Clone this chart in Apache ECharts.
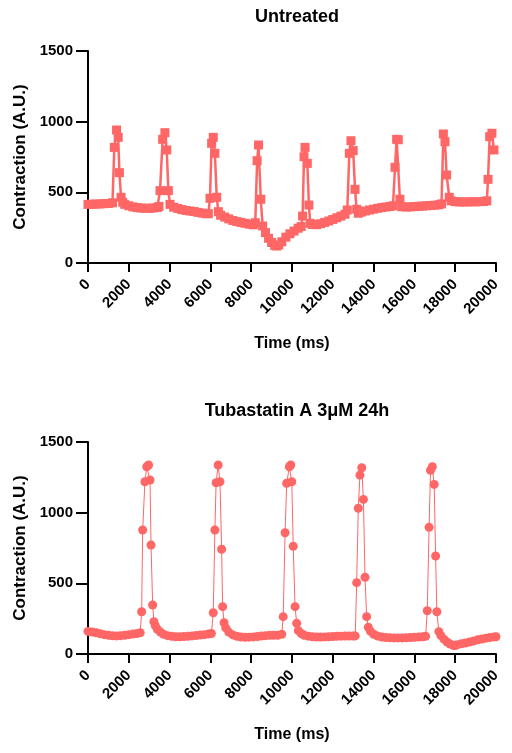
<!DOCTYPE html>
<html>
<head>
<meta charset="utf-8">
<script src="https://cdn.jsdelivr.net/npm/echarts@6/dist/echarts.min.js"></script>
<style>
  html, body { margin: 0; padding: 0; background: #fff; }
  #chart { width: 512px; height: 753px; }
</style>
</head>
<body>
<div id="chart"></div>
<script>
// panel titles and axis names
const panelTitles = ['Untreated', 'Tubastatin A 3μM 24h'];
const xName = 'Time (ms)';
const yName = 'Contraction (A.U.)';

// axis ranges / tick steps (ms, A.U.)
const xTicks = [0, 20000, 2000];
const yTicks = [0, 1500, 500];

// untreated trace, [time ms, contraction]
const untreated = [
    [0,415],[200,416],[400,417],[600,418],[800,420],[1000,421],[1200,426],
    [1290,818],[1400,941],[1480,889],[1540,639],[1620,465],[1700,430],
    [1800,415],[2000,405],[2200,397],[2400,392],[2600,389],[2800,387],[3000,387],[3200,389],[3400,393],
    [3480,400],[3530,512],[3660,875],[3770,922],[3860,800],[3940,512],[4020,415],
    [4200,395],[4400,386],[4600,378],[4800,372],[5000,368],[5200,364],[5400,358],[5600,353],[5800,349],
    [5900,349],[5980,458],[6060,847],[6140,889],[6220,776],[6310,465],[6390,363],
    [6500,338],[6700,325],[6900,312],[7100,301],[7300,293],[7500,287],[7700,281],[7900,275],[8100,270],
    [8200,285],[8290,724],[8360,835],[8470,451],[8560,262],
    [8700,215],[8850,175],[9000,145],[9150,125],[9250,120],[9350,128],[9500,150],[9700,183],[9900,207],
    [10100,226],[10300,246],[10450,258],
    [10520,332],[10590,752],[10640,818],[10750,705],[10830,410],[10890,281],
    [11000,272],[11200,271],[11400,278],[11600,287],[11800,297],[12000,308],[12200,320],[12400,332],[12600,345],
    [12710,375],[12810,776],[12890,865],[13000,795],[13090,521],[13170,380],[13250,352],
    [13400,360],[13600,368],[13800,375],[14000,381],[14200,387],[14400,392],[14600,396],[14800,400],[14950,405],
    [15050,677],[15130,875],[15210,872],[15290,451],[15380,398],
    [15600,396],[15800,397],[16000,399],[16200,401],[16400,403],[16600,405],[16800,407],[17000,409],[17200,412],[17330,418],
    [17420,913],[17500,858],[17580,623],[17710,465],[17800,440],
    [18000,434],[18200,432],[18400,432],[18600,432],[18800,433],[19000,433],[19200,434],[19400,435],[19550,440],
    [19610,592],[19690,894],[19800,918],[19900,800]
];

// tubastatin A trace, [time ms, contraction]
const tubastatin = [
    [0,160],[200,156],[400,150],[600,143],[800,137],[1000,132],[1200,129],[1400,128],[1600,130],[1800,133],
    [2000,137],[2200,141],[2400,145],[2560,150],
    [2630,299],[2680,877],[2790,1219],[2880,1325],[2970,1337],[3040,1231],[3090,771],[3170,347],[3230,229],
    [3300,200],[3400,175],[3550,155],[3700,140],[3900,130],[4100,125],[4300,122],[4500,122],[4700,123],[4900,125],
    [5100,128],[5300,131],[5500,134],[5700,137],[5900,141],[6050,145],
    [6140,292],[6220,877],[6280,1212],[6380,1337],[6470,1219],[6550,741],[6600,335],[6670,221],
    [6750,185],[6900,155],[7100,135],[7300,125],[7500,120],[7700,118],[7900,119],[8100,121],[8300,124],[8500,127],
    [8700,130],[8900,132],[9100,133],[9300,133],[9500,140],
    [9570,264],[9660,858],[9740,1208],[9870,1325],[9940,1337],[9990,1219],[10060,762],[10150,335],[10230,217],
    [10310,165],[10450,145],[10600,133],[10800,126],[11000,122],[11200,120],[11400,120],[11600,121],[11800,122],
    [12000,124],[12200,125],[12400,126],[12600,127],[12800,127],[13000,127],[13100,128],
    [13170,505],[13250,1031],[13330,1266],[13420,1318],[13500,1094],[13580,543],[13660,264],[13740,189],
    [13850,160],[14000,140],[14200,127],[14400,120],[14600,117],[14800,115],[15000,114],[15200,114],[15400,114],
    [15600,115],[15800,117],[16000,118],[16200,120],[16400,122],[16550,125],
    [16630,306],[16720,896],[16790,1300],[16880,1325],[16970,1200],[17040,693],[17100,299],[17200,158],
    [17300,130],[17450,105],[17600,85],[17750,70],[17900,62],[18000,60],[18100,65],[18300,72],[18500,78],
    [18700,85],[18900,92],[19100,100],[19300,106],[19500,112],[19700,117],[19900,121],[20000,122]
];

const FONT = '"Liberation Sans", Arial, Helvetica, sans-serif';
const RED = '#ff6666';

const grids = [
    {left: 88, right: 16, top: 51, height: 212},
    {left: 88, right: 16, top: 442, height: 212}
];

// plain numbers, no thousands separator
const plain = v => String(v);

function makeX(idx) {
    return {
        gridIndex: idx,
        type: 'value',
        min: xTicks[0], max: xTicks[1], interval: xTicks[2],
        name: xName,
        nameLocation: 'middle',
        nameGap: 73,
        nameTextStyle: {fontFamily: FONT, fontWeight: 'bold', fontSize: 16, color: '#000'},
        axisLine: {onZero: false, lineStyle: {color: '#000', width: 2}},
        axisTick: {length: 9, lineStyle: {color: '#000', width: 2}},
        axisLabel: {rotate: 45, margin: 19, formatter: plain,
            fontFamily: FONT, fontWeight: 'bold', fontSize: 15, color: '#000'},
        splitLine: {show: false}
    };
}

function makeY(idx) {
    return {
        gridIndex: idx,
        type: 'value',
        min: yTicks[0], max: yTicks[1], interval: yTicks[2],
        name: yName,
        nameLocation: 'middle',
        nameGap: 57,
        nameTextStyle: {fontFamily: FONT, fontWeight: 'bold', fontSize: 17, color: '#000'},
        axisLine: {show: true, lineStyle: {color: '#000', width: 2}},
        axisTick: {show: true, length: 12, lineStyle: {color: '#000', width: 2}},
        axisLabel: {margin: 15, formatter: plain,
            fontFamily: FONT, fontWeight: 'bold', fontSize: 15, color: '#000'},
        splitLine: {show: false}
    };
}

const chart = echarts.init(document.getElementById('chart'), null, {renderer: 'canvas'});
chart.setOption({
    animation: false,
    backgroundColor: '#fff',
    title: panelTitles.map((t, i) => ({
        text: t,
        left: 292,
        textAlign: 'center',
        top: i === 0 ? 3 : 397,
        textStyle: {fontFamily: FONT, fontWeight: 'bold', fontSize: 18, color: '#000'}
    })),
    grid: grids,
    xAxis: [makeX(0), makeX(1)],
    yAxis: [makeY(0), makeY(1)],
    series: [
        {
            type: 'line',
            xAxisIndex: 0, yAxisIndex: 0,
            data: untreated,
            symbol: 'rect',
            symbolSize: 9,
            showAllSymbol: true,
            itemStyle: {color: RED},
            lineStyle: {color: RED, width: 2.5}
        },
        {
            type: 'line',
            xAxisIndex: 1, yAxisIndex: 1,
            data: tubastatin,
            symbol: 'circle',
            symbolSize: 9,
            showAllSymbol: true,
            itemStyle: {color: RED},
            lineStyle: {color: RED, width: 1}
        }
    ]
});
</script>
</body>
</html>
